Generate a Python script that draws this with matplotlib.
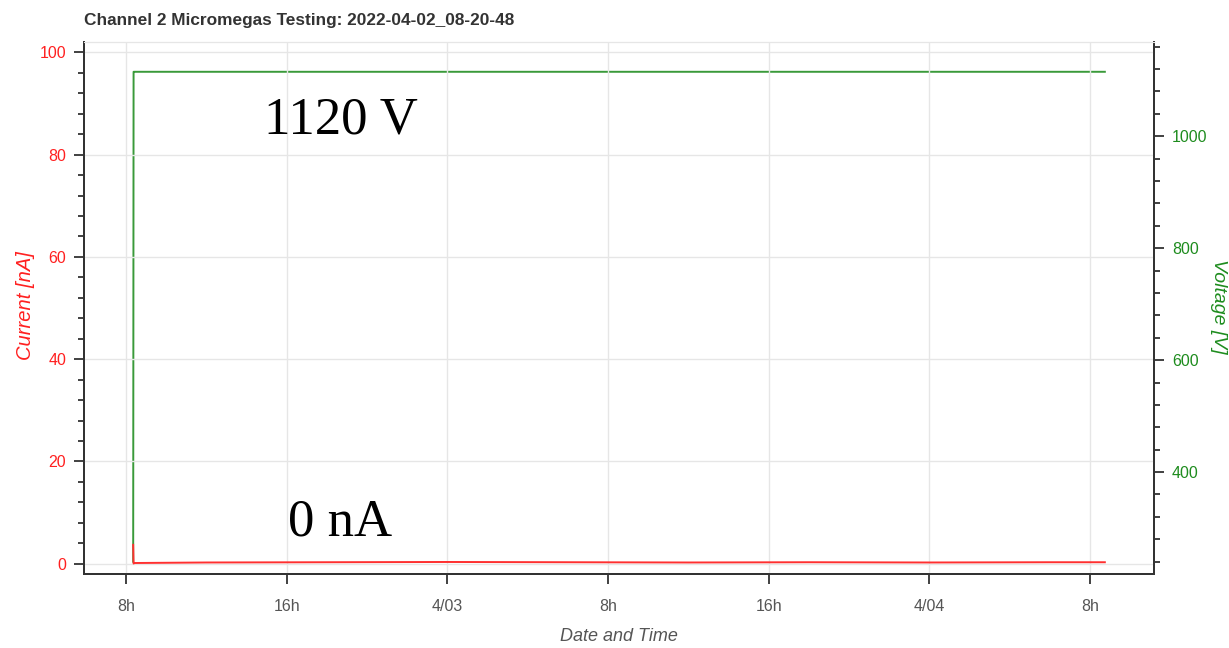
'''
Channel 2 Micromegas HV test: current and voltage vs time
'''

import pandas as pd
import numpy as np
from matplotlib import pyplot as plt
from matplotlib.ticker import MultipleLocator

# data
times = ['2022-04-02 08:20:48', '2022-04-02 08:22:00', '2022-04-02 08:25:00',
         '2022-04-02 12:00:00', '2022-04-02 18:00:00', '2022-04-03 00:00:00',
         '2022-04-03 06:00:00', '2022-04-03 12:00:00', '2022-04-03 18:00:00',
         '2022-04-04 00:00:00', '2022-04-04 06:00:00', '2022-04-04 08:45:00']
current = [3.7, 0.05, 0.15, 0.25, 0.3, 0.35, 0.3, 0.25, 0.3, 0.25, 0.3, 0.3]
voltage = [240, 1115, 1115, 1115, 1115, 1115, 1115, 1115, 1115, 1115, 1115, 1115]

tick_times = ['2022-04-02 08:00', '2022-04-02 16:00', '2022-04-03 00:00',
              '2022-04-03 08:00', '2022-04-03 16:00', '2022-04-04 00:00',
              '2022-04-04 08:00']
tick_labels = ['8h', '16h', '4/03', '8h', '16h', '4/04', '8h']

SANS = ['Liberation Sans', 'DejaVu Sans']
RED = '#ff2020'
GREEN = '#1e8c1e'


def main():
    t = pd.to_datetime(times)

    fig = plt.figure(figsize=(12.29, 6.48), dpi=100)
    ax = fig.add_axes([0.0684, 0.1142, 0.8706, 0.8208])
    ax2 = ax.twinx()

    # current drawn on top of voltage
    ax.set_zorder(ax2.get_zorder() + 1)
    ax.patch.set_visible(False)

    ax2.plot(t, voltage, color='#3a9a3a', lw=1.4)
    ax.plot(t, current, color='#ff3030', lw=1.4)

    ax.set_xlim(pd.Timestamp('2022-04-02 05:54'), pd.Timestamp('2022-04-04 11:12'))
    ax.set_ylim(-2.0, 102.0)
    ax2.set_ylim(218, 1168)

    ax.set_xticks(pd.to_datetime(tick_times))
    ax.set_xticklabels(tick_labels)
    ax.yaxis.set_major_locator(MultipleLocator(20))
    ax.yaxis.set_minor_locator(MultipleLocator(4))
    ax2.yaxis.set_major_locator(MultipleLocator(200))
    ax2.yaxis.set_minor_locator(MultipleLocator(40))

    ax.grid(True, color='#e6e6e6', lw=1.0)
    ax.set_axisbelow(True)

    for a in (ax, ax2):
        for s in ('left', 'right', 'bottom'):
            a.spines[s].set_color('#333333')
            a.spines[s].set_linewidth(1.4)
        a.spines['top'].set_color('#e6e6e6')
        a.tick_params(which='major', length=7, width=1.3, color='#333333')
        a.tick_params(which='minor', length=4, width=1.3, color='#333333')

    ax.tick_params(axis='y', labelcolor=RED, pad=6)
    ax.tick_params(axis='x', labelcolor='#555555', pad=11)
    ax2.tick_params(axis='y', labelcolor=GREEN, pad=6)
    for lab in ax.get_xticklabels() + ax.get_yticklabels() + ax2.get_yticklabels():
        lab.set_family(SANS)
        lab.set_fontsize(11.5)

    ax.set_ylabel('Current [nA]', color=RED, style='italic', family=SANS, fontsize=14.5)
    ax2.set_ylabel('Voltage [V]', color=GREEN, style='italic', family=SANS,
                   fontsize=14, rotation=-90)
    ax.set_xlabel('Date and Time', color='#555555', style='italic', family=SANS,
                  fontsize=13)
    ax.yaxis.set_label_coords(-0.0551, 0.504)
    ax.yaxis.label.set_va('center')
    ax2.yaxis.set_label_coords(1.0598, 0.504)
    ax2.yaxis.label.set_va('center')
    ax.xaxis.set_label_coords(0.5, -0.118)
    ax.xaxis.label.set_va('center')

    fig.text(84 / 1229, 1 - 20 / 648, 'Channel 2 Micromegas Testing: 2022-04-02_08-20-48',
             ha='left', va='center', fontsize=12.4, fontweight='bold',
             color='#333333', family=SANS)

    # big annotations
    ax.text(pd.Timestamp('2022-04-02 14:53'), 86.6, '1120 V', family='Liberation Serif',
            fontsize=38, ha='left', va='center', color='black')
    ax.text(pd.Timestamp('2022-04-02 16:05'), 8.0, '0 nA', family='Liberation Serif',
            fontsize=38, ha='left', va='center', color='black')

    plt.savefig('out.png', dpi=100)


if __name__ == "__main__":
    main()
